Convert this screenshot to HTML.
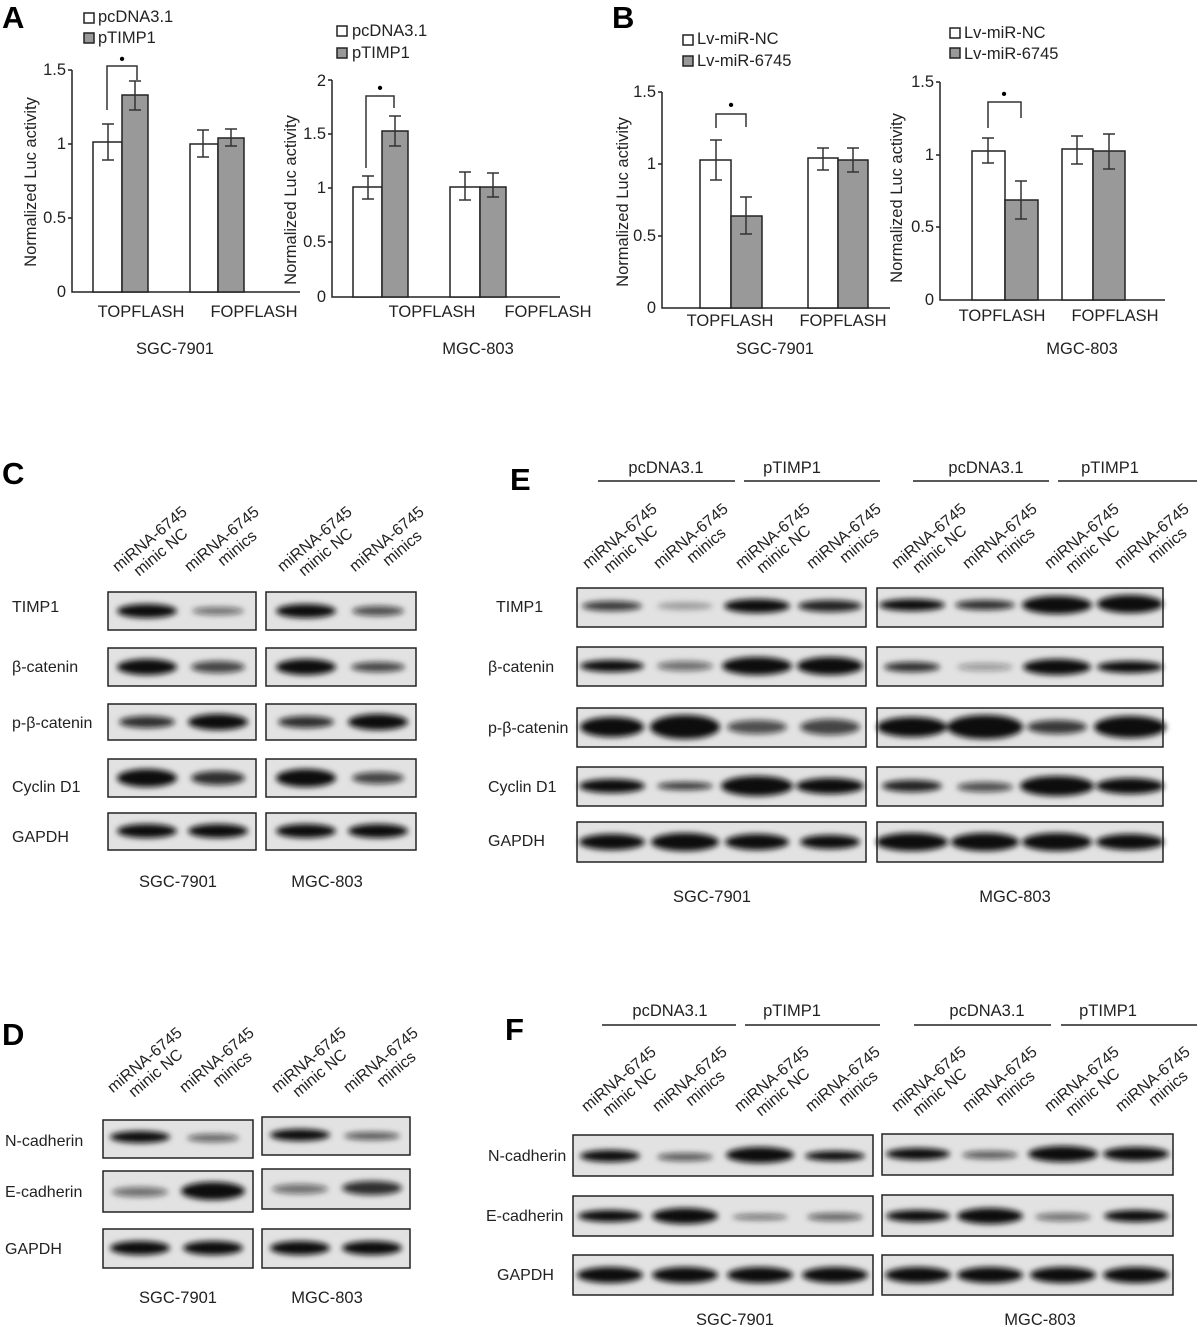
<!DOCTYPE html>
<html><head><meta charset="utf-8"><style>
body{margin:0;background:#fff}
svg{display:block;font-family:"Liberation Sans",sans-serif}
.t{font-size:16.5px;fill:#222}
.ax{stroke:#222;stroke-width:1.5;fill:none}
.w{fill:#fff;stroke:#222;stroke-width:1.5}
.g{fill:#999;stroke:#222;stroke-width:1.5}
.e{stroke:#333;stroke-width:1.5;fill:none}
.box{fill:#e2e2e2;stroke:#222;stroke-width:1.5}
.L{font-size:31px;font-weight:bold;fill:#000}
.rl{font-size:16px;fill:#222}
</style></head><body>
<svg width="1200" height="1327" viewBox="0 0 1200 1327">
<defs><filter id="b" x="-20%" y="-50%" width="140%" height="200%"><feGaussianBlur stdDeviation="3"/></filter></defs>

<!-- A1 -->
<text class="L" x="2" y="28">A</text>
<rect class="w" x="84" y="13" width="10" height="10"/><text class="t" x="98" y="22">pcDNA3.1</text>
<rect class="g" x="84" y="33" width="10" height="10"/><text class="t" x="98" y="43">pTIMP1</text>
<path class="ax" d="M72,70V292H300M68,70H72M68,144H72M68,218H72"/>
<g class="t" text-anchor="end"><text x="66" y="75">1.5</text><text x="66" y="149">1</text><text x="66" y="223">0.5</text><text x="66" y="297">0</text></g>
<text class="t" transform="translate(36,182) rotate(-90)" text-anchor="middle">Normalized Luc activity</text>
<rect class="w" x="93" y="142" width="29" height="150"/><rect class="g" x="122" y="95" width="26" height="197"/>
<rect class="w" x="190" y="144" width="28" height="148"/><rect class="g" x="218" y="138" width="26" height="154"/>
<path class="e" d="M108,124V160M102,124H114M102,160H114M135,81V110M129,81H141M129,110H141M203,130V157M197,130H209M197,157H209M231,129V146M225,129H237M225,146H237"/>
<path class="e" d="M107,110V66H137V80"/><text x="122" y="64" font-size="16" text-anchor="middle">•</text>
<text class="t" x="141" y="317" text-anchor="middle">TOPFLASH</text><text class="t" x="254" y="317" text-anchor="middle">FOPFLASH</text>
<text class="t" x="175" y="354" text-anchor="middle">SGC-7901</text>

<!-- A2 -->
<rect class="w" x="337" y="26" width="10" height="10"/><text class="t" x="352" y="36">pcDNA3.1</text>
<rect class="g" x="337" y="48" width="10" height="10"/><text class="t" x="352" y="58">pTIMP1</text>
<path class="ax" d="M332,80V297H560M328,80H332M328,134H332M328,188H332M328,242H332"/>
<g class="t" text-anchor="end"><text x="326" y="86">2</text><text x="326" y="139">1.5</text><text x="326" y="193">1</text><text x="326" y="247">0.5</text><text x="326" y="302">0</text></g>
<text class="t" transform="translate(296,200) rotate(-90)" text-anchor="middle">Normalized Luc activity</text>
<rect class="w" x="353" y="187" width="29" height="110"/><rect class="g" x="382" y="131" width="26" height="166"/>
<rect class="w" x="450" y="187" width="30" height="110"/><rect class="g" x="480" y="187" width="26" height="110"/>
<path class="e" d="M368,176V199M362,176H374M362,199H374M395,116V146M389,116H401M389,146H401M465,172V200M459,172H471M459,200H471M493,173V197M487,173H499M487,197H499"/>
<path class="e" d="M366,168V96H394V108"/><text x="380" y="93" font-size="16" text-anchor="middle">•</text>
<text class="t" x="432" y="317" text-anchor="middle">TOPFLASH</text><text class="t" x="548" y="317" text-anchor="middle">FOPFLASH</text>
<text class="t" x="478" y="354" text-anchor="middle">MGC-803</text>

<!-- B1 -->
<text class="L" x="612" y="28">B</text>
<rect class="w" x="683" y="35" width="10" height="10"/><text class="t" x="697" y="44">Lv-miR-NC</text>
<rect class="g" x="683" y="56" width="10" height="10"/><text class="t" x="697" y="66">Lv-miR-6745</text>
<path class="ax" d="M662,92V308H890M658,92H662M658,164H662M658,236H662"/>
<g class="t" text-anchor="end"><text x="656" y="97">1.5</text><text x="656" y="169">1</text><text x="656" y="241">0.5</text><text x="656" y="313">0</text></g>
<text class="t" transform="translate(628,202) rotate(-90)" text-anchor="middle">Normalized Luc activity</text>
<rect class="w" x="700" y="160" width="31" height="148"/><rect class="g" x="731" y="216" width="31" height="92"/>
<rect class="w" x="808" y="158" width="30" height="150"/><rect class="g" x="838" y="160" width="30" height="148"/>
<path class="e" d="M716,140V180M710,140H722M710,180H722M746,197V234M740,197H752M740,234H752M823,148V170M817,148H829M817,170H829M853,148V172M847,148H859M847,172H859"/>
<path class="e" d="M716,128V114H746V127"/><text x="731" y="110" font-size="16" text-anchor="middle">•</text>
<text class="t" x="730" y="326" text-anchor="middle">TOPFLASH</text><text class="t" x="843" y="326" text-anchor="middle">FOPFLASH</text>
<text class="t" x="775" y="354" text-anchor="middle">SGC-7901</text>

<!-- B2 -->
<rect class="w" x="950" y="28" width="10" height="10"/><text class="t" x="964" y="38">Lv-miR-NC</text>
<rect class="g" x="950" y="48" width="10" height="10"/><text class="t" x="964" y="59">Lv-miR-6745</text>
<path class="ax" d="M940,82V300H1165M936,82H940M936,155H940M936,227H940"/>
<g class="t" text-anchor="end"><text x="934" y="87">1.5</text><text x="934" y="160">1</text><text x="934" y="232">0.5</text><text x="934" y="305">0</text></g>
<text class="t" transform="translate(902,198) rotate(-90)" text-anchor="middle">Normalized Luc activity</text>
<rect class="w" x="972" y="151" width="33" height="149"/><rect class="g" x="1005" y="200" width="33" height="100"/>
<rect class="w" x="1062" y="149" width="31" height="151"/><rect class="g" x="1093" y="151" width="32" height="149"/>
<path class="e" d="M988,138V163M982,138H994M982,163H994M1021,181V219M1015,181H1027M1015,219H1027M1077,136V164M1071,136H1083M1071,164H1083M1109,134V169M1103,134H1115M1103,169H1115"/>
<path class="e" d="M988,128V102H1021V118"/><text x="1004" y="99" font-size="16" text-anchor="middle">•</text>
<text class="t" x="1002" y="321" text-anchor="middle">TOPFLASH</text><text class="t" x="1115" y="321" text-anchor="middle">FOPFLASH</text>
<text class="t" x="1082" y="354" text-anchor="middle">MGC-803</text>

<!-- C -->
<text class="L" x="2" y="484">C</text>
<g class="rl" text-anchor="middle">
<text transform="translate(153,543) rotate(-40)"><tspan x="0" y="0">miRNA-6745</tspan><tspan x="0" dy="17">minic NC</tspan></text>
<text transform="translate(225,543) rotate(-40)"><tspan x="0" y="0">miRNA-6745</tspan><tspan x="6" dy="17">minics</tspan></text>
<text transform="translate(318,543) rotate(-40)"><tspan x="0" y="0">miRNA-6745</tspan><tspan x="0" dy="17">minic NC</tspan></text>
<text transform="translate(390,543) rotate(-40)"><tspan x="0" y="0">miRNA-6745</tspan><tspan x="6" dy="17">minics</tspan></text>
</g>
<g class="rl"><text x="12" y="612">TIMP1</text><text x="12" y="672">β-catenin</text><text x="12" y="728">p-β-catenin</text><text x="12" y="792">Cyclin D1</text><text x="12" y="842">GAPDH</text></g>
<g><rect class="box" x="108" y="592" width="148" height="38"/><rect class="box" x="266" y="592" width="150" height="38"/>
<rect class="box" x="108" y="648" width="148" height="38"/><rect class="box" x="266" y="648" width="150" height="38"/>
<rect class="box" x="108" y="704" width="148" height="36"/><rect class="box" x="266" y="704" width="150" height="36"/>
<rect class="box" x="108" y="759" width="148" height="38"/><rect class="box" x="266" y="759" width="150" height="38"/>
<rect class="box" x="108" y="813" width="148" height="37"/><rect class="box" x="266" y="813" width="150" height="37"/></g>
<g filter="url(#b)" fill="#111">
<ellipse cx="147" cy="611" rx="30" ry="7"/><ellipse cx="218" cy="611" rx="26" ry="4" opacity=".55"/><ellipse cx="306" cy="611" rx="30" ry="7"/><ellipse cx="378" cy="611" rx="26" ry="5" opacity=".7"/>
<ellipse cx="147" cy="667" rx="30" ry="8"/><ellipse cx="218" cy="667" rx="27" ry="6" opacity=".75"/><ellipse cx="306" cy="667" rx="30" ry="8"/><ellipse cx="378" cy="667" rx="27" ry="5" opacity=".75"/>
<ellipse cx="147" cy="722" rx="28" ry="6" opacity=".85"/><ellipse cx="218" cy="722" rx="30" ry="8"/><ellipse cx="306" cy="722" rx="28" ry="6" opacity=".85"/><ellipse cx="378" cy="722" rx="30" ry="8"/>
<ellipse cx="147" cy="778" rx="30" ry="9"/><ellipse cx="218" cy="778" rx="27" ry="7" opacity=".85"/><ellipse cx="306" cy="778" rx="30" ry="9"/><ellipse cx="378" cy="778" rx="26" ry="6" opacity=".75"/>
<ellipse cx="147" cy="831" rx="30" ry="7"/><ellipse cx="218" cy="831" rx="30" ry="7"/><ellipse cx="306" cy="831" rx="30" ry="7"/><ellipse cx="378" cy="831" rx="30" ry="7"/>
</g>
<text class="t" x="178" y="887" text-anchor="middle">SGC-7901</text><text class="t" x="327" y="887" text-anchor="middle">MGC-803</text>

<!-- E -->
<text class="L" x="510" y="490">E</text>
<path class="ax" d="M598,481H735M744,481H880M913,481H1049M1058,481H1197"/>
<g class="t" text-anchor="middle"><text x="666" y="473">pcDNA3.1</text><text x="792" y="473">pTIMP1</text><text x="986" y="473">pcDNA3.1</text><text x="1110" y="473">pTIMP1</text></g>
<g class="rl" text-anchor="middle">
<text transform="translate(623,540) rotate(-40)"><tspan x="0" y="0">miRNA-6745</tspan><tspan x="0" dy="17">minic NC</tspan></text>
<text transform="translate(694,540) rotate(-40)"><tspan x="0" y="0">miRNA-6745</tspan><tspan x="6" dy="17">minics</tspan></text>
<text transform="translate(776,540) rotate(-40)"><tspan x="0" y="0">miRNA-6745</tspan><tspan x="0" dy="17">minic NC</tspan></text>
<text transform="translate(847,540) rotate(-40)"><tspan x="0" y="0">miRNA-6745</tspan><tspan x="6" dy="17">minics</tspan></text>
<text transform="translate(932,540) rotate(-40)"><tspan x="0" y="0">miRNA-6745</tspan><tspan x="0" dy="17">minic NC</tspan></text>
<text transform="translate(1003,540) rotate(-40)"><tspan x="0" y="0">miRNA-6745</tspan><tspan x="6" dy="17">minics</tspan></text>
<text transform="translate(1085,540) rotate(-40)"><tspan x="0" y="0">miRNA-6745</tspan><tspan x="0" dy="17">minic NC</tspan></text>
<text transform="translate(1155,540) rotate(-40)"><tspan x="0" y="0">miRNA-6745</tspan><tspan x="6" dy="17">minics</tspan></text>
</g>
<g class="rl"><text x="496" y="612">TIMP1</text><text x="488" y="672">β-catenin</text><text x="488" y="733">p-β-catenin</text><text x="488" y="792">Cyclin D1</text><text x="488" y="846">GAPDH</text></g>
<g><rect class="box" x="577" y="588" width="289" height="39"/><rect class="box" x="877" y="588" width="286" height="39"/>
<rect class="box" x="577" y="647" width="289" height="39"/><rect class="box" x="877" y="647" width="286" height="39"/>
<rect class="box" x="577" y="708" width="289" height="39"/><rect class="box" x="877" y="708" width="286" height="39"/>
<rect class="box" x="577" y="767" width="289" height="39"/><rect class="box" x="877" y="767" width="286" height="39"/>
<rect class="box" x="577" y="822" width="289" height="40"/><rect class="box" x="877" y="822" width="286" height="40"/></g>
<g filter="url(#b)" fill="#111">
<ellipse cx="612" cy="606" rx="30" ry="5" opacity=".8"/><ellipse cx="685" cy="606" rx="28" ry="4" opacity=".3"/><ellipse cx="757" cy="606" rx="33" ry="7"/><ellipse cx="830" cy="606" rx="32" ry="6" opacity=".9"/>
<ellipse cx="912" cy="605" rx="33" ry="6"/><ellipse cx="985" cy="605" rx="30" ry="5" opacity=".85"/><ellipse cx="1057" cy="605" rx="35" ry="9"/><ellipse cx="1130" cy="604" rx="33" ry="9"/>
<ellipse cx="612" cy="666" rx="32" ry="6"/><ellipse cx="685" cy="666" rx="28" ry="5" opacity=".55"/><ellipse cx="757" cy="666" rx="35" ry="9"/><ellipse cx="830" cy="666" rx="33" ry="9"/>
<ellipse cx="912" cy="667" rx="28" ry="5" opacity=".85"/><ellipse cx="985" cy="667" rx="28" ry="4" opacity=".35"/><ellipse cx="1057" cy="667" rx="34" ry="8"/><ellipse cx="1130" cy="667" rx="33" ry="6"/>
<ellipse cx="612" cy="727" rx="32" ry="10"/><ellipse cx="685" cy="727" rx="35" ry="12"/><ellipse cx="757" cy="727" rx="30" ry="7" opacity=".7"/><ellipse cx="830" cy="727" rx="30" ry="8" opacity=".75"/>
<ellipse cx="912" cy="727" rx="35" ry="10"/><ellipse cx="985" cy="727" rx="38" ry="12"/><ellipse cx="1057" cy="727" rx="30" ry="7" opacity=".8"/><ellipse cx="1130" cy="727" rx="36" ry="11"/>
<ellipse cx="612" cy="786" rx="33" ry="7"/><ellipse cx="685" cy="786" rx="28" ry="4" opacity=".8"/><ellipse cx="757" cy="786" rx="36" ry="10"/><ellipse cx="830" cy="786" rx="34" ry="8"/>
<ellipse cx="912" cy="786" rx="30" ry="6" opacity=".9"/><ellipse cx="985" cy="787" rx="28" ry="5" opacity=".7"/><ellipse cx="1057" cy="786" rx="37" ry="10"/><ellipse cx="1130" cy="786" rx="34" ry="8"/>
<ellipse cx="612" cy="842" rx="33" ry="8"/><ellipse cx="685" cy="842" rx="34" ry="9"/><ellipse cx="757" cy="842" rx="32" ry="8"/><ellipse cx="830" cy="842" rx="30" ry="7"/>
<ellipse cx="912" cy="842" rx="36" ry="9"/><ellipse cx="985" cy="842" rx="34" ry="9"/><ellipse cx="1057" cy="842" rx="35" ry="9"/><ellipse cx="1130" cy="842" rx="34" ry="8"/>
</g>
<text class="t" x="712" y="902" text-anchor="middle">SGC-7901</text><text class="t" x="1015" y="902" text-anchor="middle">MGC-803</text>

<!-- D -->
<text class="L" x="2" y="1045">D</text>
<g class="rl" text-anchor="middle">
<text transform="translate(148,1064) rotate(-40)"><tspan x="0" y="0">miRNA-6745</tspan><tspan x="0" dy="17">minic NC</tspan></text>
<text transform="translate(220,1064) rotate(-40)"><tspan x="0" y="0">miRNA-6745</tspan><tspan x="6" dy="17">minics</tspan></text>
<text transform="translate(312,1064) rotate(-40)"><tspan x="0" y="0">miRNA-6745</tspan><tspan x="0" dy="17">minic NC</tspan></text>
<text transform="translate(384,1064) rotate(-40)"><tspan x="0" y="0">miRNA-6745</tspan><tspan x="6" dy="17">minics</tspan></text>
</g>
<g class="rl"><text x="5" y="1146">N-cadherin</text><text x="5" y="1197">E-cadherin</text><text x="5" y="1254">GAPDH</text></g>
<g><rect class="box" x="103" y="1120" width="150" height="38"/><rect class="box" x="262" y="1117" width="148" height="38"/>
<rect class="box" x="103" y="1171" width="150" height="41"/><rect class="box" x="262" y="1169" width="148" height="40"/>
<rect class="box" x="103" y="1229" width="150" height="39"/><rect class="box" x="262" y="1229" width="148" height="39"/></g>
<g filter="url(#b)" fill="#111">
<ellipse cx="140" cy="1137" rx="30" ry="6"/><ellipse cx="213" cy="1138" rx="26" ry="4" opacity=".6"/><ellipse cx="300" cy="1135" rx="30" ry="6"/><ellipse cx="372" cy="1136" rx="28" ry="4" opacity=".65"/>
<ellipse cx="140" cy="1192" rx="28" ry="5" opacity=".55"/><ellipse cx="213" cy="1191" rx="32" ry="9"/><ellipse cx="300" cy="1189" rx="28" ry="5" opacity=".55"/><ellipse cx="372" cy="1188" rx="30" ry="7" opacity=".85"/>
<ellipse cx="140" cy="1248" rx="30" ry="7"/><ellipse cx="213" cy="1248" rx="30" ry="7"/><ellipse cx="300" cy="1248" rx="30" ry="7"/><ellipse cx="372" cy="1248" rx="30" ry="7"/>
</g>
<text class="t" x="178" y="1303" text-anchor="middle">SGC-7901</text><text class="t" x="327" y="1303" text-anchor="middle">MGC-803</text>

<!-- F -->
<text class="L" x="505" y="1040">F</text>
<path class="ax" d="M602,1025H736M745,1025H880M914,1025H1051M1061,1025H1197"/>
<g class="t" text-anchor="middle"><text x="670" y="1016">pcDNA3.1</text><text x="792" y="1016">pTIMP1</text><text x="987" y="1016">pcDNA3.1</text><text x="1108" y="1016">pTIMP1</text></g>
<g class="rl" text-anchor="middle">
<text transform="translate(622,1083) rotate(-40)"><tspan x="0" y="0">miRNA-6745</tspan><tspan x="0" dy="17">minic NC</tspan></text>
<text transform="translate(693,1083) rotate(-40)"><tspan x="0" y="0">miRNA-6745</tspan><tspan x="6" dy="17">minics</tspan></text>
<text transform="translate(775,1083) rotate(-40)"><tspan x="0" y="0">miRNA-6745</tspan><tspan x="0" dy="17">minic NC</tspan></text>
<text transform="translate(846,1083) rotate(-40)"><tspan x="0" y="0">miRNA-6745</tspan><tspan x="6" dy="17">minics</tspan></text>
<text transform="translate(932,1083) rotate(-40)"><tspan x="0" y="0">miRNA-6745</tspan><tspan x="0" dy="17">minic NC</tspan></text>
<text transform="translate(1003,1083) rotate(-40)"><tspan x="0" y="0">miRNA-6745</tspan><tspan x="6" dy="17">minics</tspan></text>
<text transform="translate(1085,1083) rotate(-40)"><tspan x="0" y="0">miRNA-6745</tspan><tspan x="0" dy="17">minic NC</tspan></text>
<text transform="translate(1156,1083) rotate(-40)"><tspan x="0" y="0">miRNA-6745</tspan><tspan x="6" dy="17">minics</tspan></text>
</g>
<g class="rl"><text x="488" y="1161">N-cadherin</text><text x="486" y="1221">E-cadherin</text><text x="497" y="1280">GAPDH</text></g>
<g><rect class="box" x="573" y="1135" width="300" height="41"/><rect class="box" x="882" y="1134" width="291" height="41"/>
<rect class="box" x="573" y="1196" width="300" height="40"/><rect class="box" x="882" y="1195" width="291" height="41"/>
<rect class="box" x="573" y="1255" width="300" height="40"/><rect class="box" x="882" y="1255" width="291" height="40"/></g>
<g filter="url(#b)" fill="#111">
<ellipse cx="610" cy="1156" rx="30" ry="6"/><ellipse cx="685" cy="1157" rx="28" ry="4" opacity=".65"/><ellipse cx="760" cy="1155" rx="34" ry="8"/><ellipse cx="835" cy="1156" rx="30" ry="5"/>
<ellipse cx="918" cy="1154" rx="32" ry="6"/><ellipse cx="990" cy="1155" rx="28" ry="4" opacity=".65"/><ellipse cx="1063" cy="1154" rx="35" ry="8"/><ellipse cx="1136" cy="1154" rx="33" ry="7"/>
<ellipse cx="610" cy="1216" rx="32" ry="6"/><ellipse cx="685" cy="1216" rx="33" ry="8"/><ellipse cx="760" cy="1217" rx="28" ry="3" opacity=".55"/><ellipse cx="835" cy="1217" rx="28" ry="4" opacity=".6"/>
<ellipse cx="918" cy="1216" rx="32" ry="6"/><ellipse cx="990" cy="1216" rx="33" ry="8"/><ellipse cx="1063" cy="1217" rx="28" ry="4" opacity=".55"/><ellipse cx="1136" cy="1216" rx="32" ry="6"/>
<ellipse cx="610" cy="1275" rx="33" ry="8"/><ellipse cx="685" cy="1275" rx="33" ry="8"/><ellipse cx="760" cy="1275" rx="33" ry="8"/><ellipse cx="835" cy="1275" rx="33" ry="8"/>
<ellipse cx="918" cy="1275" rx="33" ry="8"/><ellipse cx="990" cy="1275" rx="33" ry="8"/><ellipse cx="1063" cy="1275" rx="33" ry="8"/><ellipse cx="1136" cy="1275" rx="33" ry="8"/>
</g>
<text class="t" x="735" y="1325" text-anchor="middle">SGC-7901</text><text class="t" x="1040" y="1325" text-anchor="middle">MGC-803</text>
</svg>
</body></html>
